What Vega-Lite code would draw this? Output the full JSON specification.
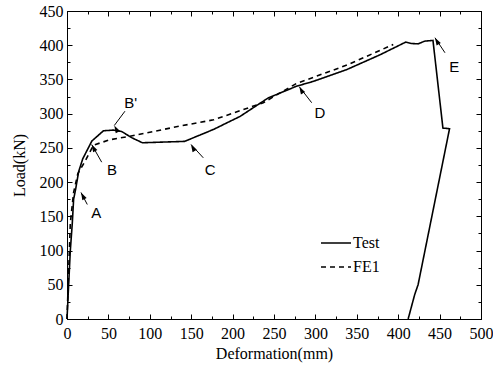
{
  "$schema": "https://vega.github.io/schema/vega-lite/v6.json",
  "width": 414,
  "height": 308,
  "autosize": {"type": "none"},
  "padding": {"left": 67, "top": 11, "right": 12, "bottom": 50},
  "background": "white",
  "config": {
    "view": {"stroke": "black", "strokeWidth": 1},
    "axis": {
      "domainColor": "black", "tickColor": "black", "labelColor": "black", "titleColor": "black",
      "labelFont": "Liberation Serif", "titleFont": "Liberation Serif",
      "labelFontSize": 16, "titleFontSize": 16, "titleFontWeight": "normal",
      "grid": false, "tickWidth": 1, "domainWidth": 1, "labelFlush": false, "labelOverlap": false
    }
  },
  "datasets": {
    "curves": [
      {"series": "Test", "i": 0, "d": 0, "L": 0},
      {"series": "Test", "i": 1, "d": 2, "L": 50},
      {"series": "Test", "i": 2, "d": 4, "L": 100},
      {"series": "Test", "i": 3, "d": 6.4, "L": 140},
      {"series": "Test", "i": 4, "d": 8, "L": 175},
      {"series": "Test", "i": 5, "d": 10.5, "L": 190},
      {"series": "Test", "i": 6, "d": 14, "L": 215},
      {"series": "Test", "i": 7, "d": 19, "L": 234},
      {"series": "Test", "i": 8, "d": 30, "L": 260},
      {"series": "Test", "i": 9, "d": 44, "L": 275},
      {"series": "Test", "i": 10, "d": 56, "L": 276},
      {"series": "Test", "i": 11, "d": 66, "L": 274},
      {"series": "Test", "i": 12, "d": 78, "L": 265},
      {"series": "Test", "i": 13, "d": 91, "L": 257.5},
      {"series": "Test", "i": 14, "d": 142, "L": 259.5},
      {"series": "Test", "i": 15, "d": 177, "L": 277},
      {"series": "Test", "i": 16, "d": 209, "L": 296},
      {"series": "Test", "i": 17, "d": 243, "L": 323},
      {"series": "Test", "i": 18, "d": 277, "L": 340},
      {"series": "Test", "i": 19, "d": 297, "L": 347},
      {"series": "Test", "i": 20, "d": 338, "L": 364.5},
      {"series": "Test", "i": 21, "d": 378, "L": 386},
      {"series": "Test", "i": 22, "d": 409, "L": 404.5},
      {"series": "Test", "i": 23, "d": 416, "L": 402.5},
      {"series": "Test", "i": 24, "d": 424, "L": 402},
      {"series": "Test", "i": 25, "d": 432, "L": 406},
      {"series": "Test", "i": 26, "d": 442, "L": 407},
      {"series": "Test", "i": 27, "d": 454, "L": 279},
      {"series": "Test", "i": 28, "d": 462, "L": 278},
      {"series": "Test", "i": 29, "d": 424, "L": 50},
      {"series": "Test", "i": 30, "d": 420, "L": 36},
      {"series": "Test", "i": 31, "d": 412, "L": 0},
      {"series": "FE1", "i": 0, "d": 0, "L": 0},
      {"series": "FE1", "i": 1, "d": 4, "L": 140},
      {"series": "FE1", "i": 2, "d": 8, "L": 185},
      {"series": "FE1", "i": 3, "d": 13, "L": 212},
      {"series": "FE1", "i": 4, "d": 22, "L": 231},
      {"series": "FE1", "i": 5, "d": 32, "L": 254},
      {"series": "FE1", "i": 6, "d": 52, "L": 262},
      {"series": "FE1", "i": 7, "d": 76, "L": 267},
      {"series": "FE1", "i": 8, "d": 137, "L": 282},
      {"series": "FE1", "i": 9, "d": 177, "L": 291},
      {"series": "FE1", "i": 10, "d": 237, "L": 316},
      {"series": "FE1", "i": 11, "d": 277, "L": 344},
      {"series": "FE1", "i": 12, "d": 338, "L": 371},
      {"series": "FE1", "i": 13, "d": 394, "L": 401}
    ],
    "arrows": [
      {"label": "A", "tipD": 16.9, "tipL": 184.8, "tailD": 24.5, "tailL": 167.3, "textD": 35.3, "textL": 154.4},
      {"label": "B", "tipD": 29.8, "tipL": 254.9, "tailD": 41.9, "tailL": 229.1, "textD": 54.3, "textL": 217.3},
      {"label": "B'", "tipD": 57.1, "tipL": 282.7, "tailD": 70, "tailL": 303.6, "textD": 77, "textL": 315.6},
      {"label": "C", "tipD": 149.8, "tipL": 255, "tailD": 164.6, "tailL": 235.5, "textD": 173, "textL": 217.3},
      {"label": "D", "tipD": 280.6, "tipL": 339.3, "tailD": 295.5, "tailL": 316, "textD": 305.4, "textL": 301.4},
      {"label": "E", "tipD": 444.4, "tipL": 410.9, "tailD": 456.5, "tailL": 389, "textD": 467.8, "textL": 368.2}
    ]
  },
  "layer": [
    {
      "data": {"name": "curves"},
      "mark": {"type": "line", "color": "black", "strokeWidth": 1.6},
      "encoding": {
        "x": {
          "field": "d", "type": "quantitative",
          "scale": {"domain": [0, 500], "nice": false},
          "axis": {
            "orient": "bottom",
            "values": [0,25,50,75,100,125,150,175,200,225,250,275,300,325,350,375,400,425,450,475,500],
            "labelExpr": "datum.value % 50 === 0 ? datum.label : ''",
            "tickSize": {"condition": {"test": "datum.value % 50 === 0", "value": -5}, "value": -3},
            "labelPadding": 11,
            "title": "Deformation(mm)",
            "titlePadding": 2
          }
        },
        "y": {
          "field": "L", "type": "quantitative",
          "scale": {"domain": [0, 450], "nice": false},
          "axis": {
            "orient": "left",
            "values": [0,25,50,75,100,125,150,175,200,225,250,275,300,325,350,375,400,425,450],
            "labelExpr": "datum.value % 50 === 0 ? datum.label : ''",
            "tickSize": {"condition": {"test": "datum.value % 50 === 0", "value": -5}, "value": -3},
            "labelPadding": 9,
            "title": "Load(kN)",
            "titlePadding": 12
          }
        },
        "strokeDash": {
          "field": "series", "type": "nominal",
          "scale": {"domain": ["Test", "FE1"], "range": [[1, 0], [5, 4]]},
          "legend": {
            "title": null, "orient": "none", "legendX": 253, "legendY": 216,
            "symbolType": "stroke", "symbolSize": 900, "symbolStrokeWidth": 1.6,
            "symbolStrokeColor": "black", "labelFont": "Liberation Serif", "labelFontSize": 16,
            "labelColor": "black", "labelOffset": 1, "rowPadding": -5, "padding": 0
          }
        },
        "order": {"field": "i", "type": "quantitative"}
      }
    },
    {
      "data": {"name": "arrows"},
      "mark": {"type": "rule", "color": "black", "strokeWidth": 1},
      "encoding": {
        "x": {
          "field": "tailD", "type": "quantitative",
          "axis": {
            "orient": "top",
            "values": [0,25,50,75,100,125,150,175,200,225,250,275,300,325,350,375,400,425,450,475,500],
            "labels": false, "title": null,
            "tickSize": {"condition": {"test": "datum.value % 50 === 0", "value": -5}, "value": -3}
          }
        },
        "y": {
          "field": "tailL", "type": "quantitative",
          "axis": {
            "orient": "right",
            "values": [0,25,50,75,100,125,150,175,200,225,250,275,300,325,350,375,400,425,450],
            "labels": false, "title": null,
            "tickSize": {"condition": {"test": "datum.value % 50 === 0", "value": -5}, "value": -3}
          }
        },
        "x2": {"field": "tipD"},
        "y2": {"field": "tipL"}
      }
    },
    {
      "data": {"name": "arrows"},
      "mark": {"type": "point", "shape": "M0,0L-0.65,2L0.65,2Z", "filled": true, "color": "black", "size": 56, "opacity": 1},
      "encoding": {
        "x": {"field": "tipD", "type": "quantitative", "axis": null},
        "y": {"field": "tipL", "type": "quantitative", "axis": null},
        "angle": {
          "field": "label", "type": "nominal",
          "scale": {"domain": ["A", "B", "B'", "C", "D", "E"], "range": [332, 330, 217, 317, 322, 326]},
          "legend": null
        }
      }
    },
    {
      "data": {"name": "arrows"},
      "mark": {"type": "text", "font": "Liberation Sans", "fontSize": 15, "color": "black", "align": "center", "baseline": "middle"},
      "encoding": {
        "x": {"field": "textD", "type": "quantitative", "axis": null},
        "y": {"field": "textL", "type": "quantitative", "axis": null},
        "text": {"field": "label"}
      }
    }
  ],
  "resolve": {"axis": {"x": "independent", "y": "independent"}}
}
